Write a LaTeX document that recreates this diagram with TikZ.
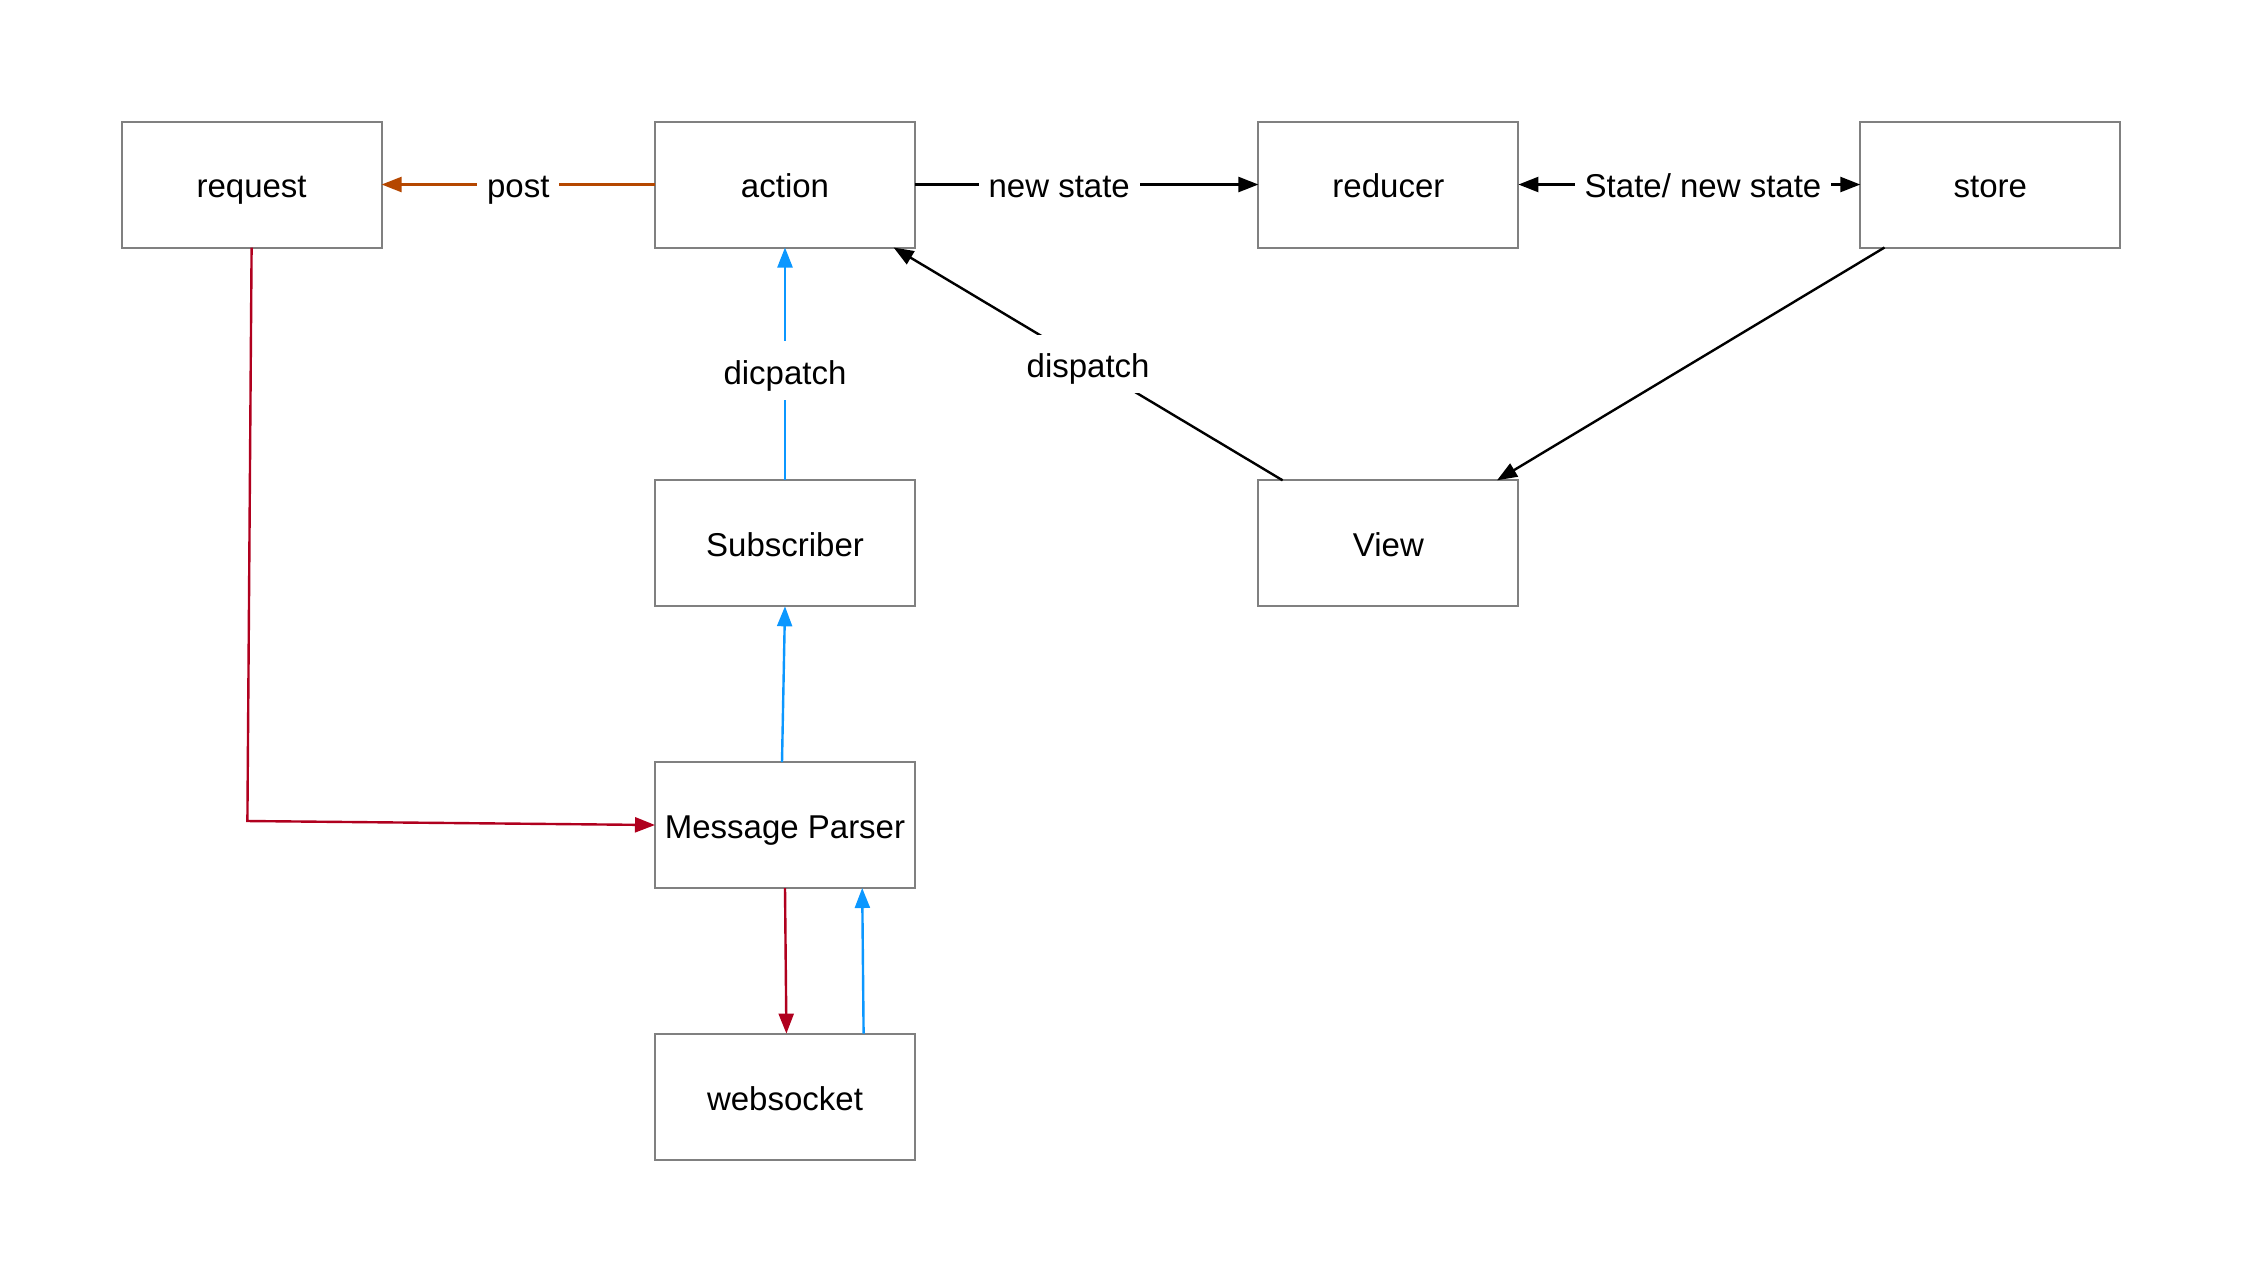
\documentclass[tikz,border=0pt]{standalone}
\usepackage{fontspec}
\setmainfont{Liberation Sans}
\usetikzlibrary{arrows.meta}
\definecolor{boxgray}{HTML}{808080}
\definecolor{postc}{HTML}{B54700}
\definecolor{redc}{HTML}{B0001E}
\definecolor{bluec}{HTML}{0B97FF}
\begin{document}
\begin{tikzpicture}[x=0.5pt,y=-0.5pt,
  box/.style={draw=boxgray, line width=1pt, fill=white, minimum width=130pt, minimum height=63pt, outer sep=0pt, inner sep=0pt, text height=13.4pt, text depth=0pt, font=\fontsize{16.5}{20}\selectfont},
  conn/.style={line width=1.2pt, -{Triangle[length=10pt,width=7.5pt]}},
  lbl/.style={fill=white, inner xsep=5pt, inner ysep=8pt, text height=13.4pt, text depth=0pt, font=\fontsize{16.5}{20}\selectfont}]
\useasboundingbox (0,0) rectangle (2242,1282);
\node[box] (request) at (251.6,184.5) {request};
\node[box] (action) at (785,184.5) {action};
\node[box] (reducer) at (1388.4,184.5) {reducer};
\node[box] (store) at (1990.3,184.5) {store};
\node[box] (sub) at (785,543.3) {Subscriber};
\node[box] (view) at (1388.4,543.3) {View};
\node[box] (mp) at (785,825) {Message Parser};
\node[box] (ws) at (785,1096.6) {websocket};
\coordinate (corner) at (247.4,821);
% post
\draw[conn, postc] (action.west) -- node[lbl, text=black] {post} (request.east);
% new state
\draw[conn, black] (action.east) -- node[lbl, pos=0.42] {new state} (reducer.west);
% State / new state
\draw[conn, black, {Triangle[length=10pt,width=7.5pt]}-{Triangle[length=10pt,width=7.5pt]}] (reducer.east) -- node[lbl, pos=0.54] {State/ new state} (store.west);
% store -> view
\draw[conn, black] ([xshift=-52.9pt]store.south) -- ([xshift=54.3pt]view.north);
% view -> action
\draw[conn, black] ([xshift=-52.9pt]view.north) -- node[lbl] {dispatch} ([xshift=54.3pt]action.south);
% subscriber -> action
\draw[conn, bluec] (sub.north) -- node[lbl, text=black, pos=0.47] {dicpatch} (action.south);
% mp -> subscriber
\draw[conn, bluec] ([xshift=-1.5pt]mp.north) -- (sub.south);
% request -> mp
\draw[conn, redc] (request.south) -- (corner) -- (mp.west);
% mp -> ws
\draw[conn, redc] (mp.south) -- ([xshift=0.7pt]ws.north);
% ws -> mp
\draw[conn, bluec] ([xshift=39.3pt]ws.north) -- ([xshift=38.6pt]mp.south);
\end{tikzpicture}
\end{document}
